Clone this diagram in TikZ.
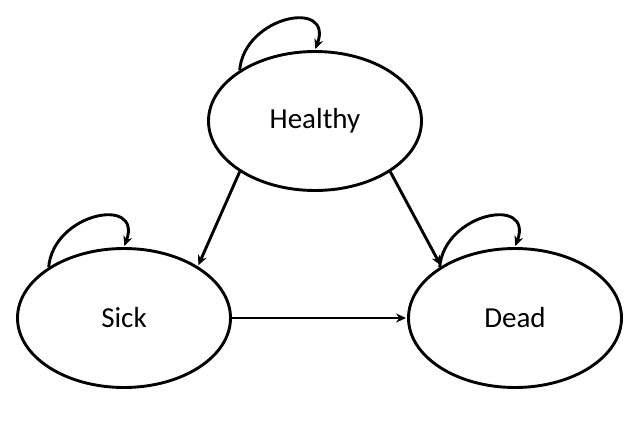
\documentclass[tikz,border=0pt]{standalone}
\usepackage{fontspec}
\setmainfont{Carlito}
\usetikzlibrary{shapes.geometric,arrows.meta}

\begin{document}
\begin{tikzpicture}[x=1pt,y=-1pt,shorten >=1pt,->,>={Stealth[length=10pt,width=9pt]},line width=2.9pt,
    state/.style={ellipse,draw,minimum width=213pt,minimum height=139pt,inner sep=0pt,font=\fontsize{29}{33}\selectfont},
    selfloop/.style={out=85,in=70,looseness=1.8}]
        \useasboundingbox (0,0) rectangle (640,431);
        \node[state] (healthy) at (315,121) {Healthy};
        \node[state] (sick) at (124,318) {Sick};
        \node[state] (dead) at (515,318) {Dead};

        \path[->] (healthy.146) edge[selfloop] (healthy.90)
                  (sick.146) edge[selfloop] (sick.90)
                  (dead.146) edge[selfloop] (dead.90)
                  (healthy.214) edge (sick.35)
                  (healthy.326) edge (dead.145)
                  (sick) edge (dead);
    \end{tikzpicture}
\end{document}
